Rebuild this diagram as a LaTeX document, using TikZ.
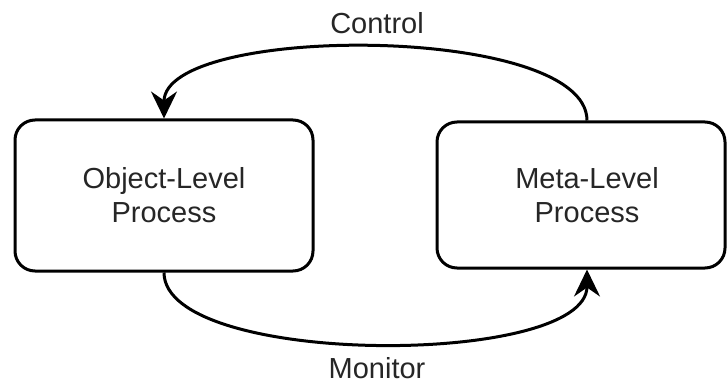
\documentclass[tikz,border=0pt]{standalone}
\usepackage{fontspec}
\setmainfont{Liberation Sans}
\usetikzlibrary{arrows.meta}
\tikzset{
  procbox/.style={draw=black, line width=3pt, rounded corners=20pt, fill=white},
  proclabel/.style={align=center, text=black!85, font=\fontsize{29}{34}\selectfont},
  flowlabel/.style={text=black!85, font=\fontsize{29}{34}\selectfont, anchor=base, inner sep=0pt},
  flow/.style={line width=3pt, -{Stealth[length=27pt, width=26pt, inset=9pt]}}
}
\begin{document}
\begin{tikzpicture}[x=1pt, y=1pt]
  \useasboundingbox (0,0) rectangle (727,383);

  % the two processes
  \node[procbox, minimum width=298pt, minimum height=151pt] (obj) at (164,187.5) {};
  \node[proclabel] (objtext) at (obj.center) {Object-Level\\Process};
  \node[procbox, minimum width=288pt, minimum height=146pt] (meta) at (581,188) {};
  \node[proclabel] (metatext) at ([xshift=6pt]meta.center) {Meta-Level\\Process};

  % control flows from the meta level down to the object level
  \draw[flow] ([xshift=6pt]meta.north) .. controls +(0,97) and +(0,95) .. (obj.north);
  \node[flowlabel] (ctrl) at (377,349) {Control};

  % monitoring flows from the object level up to the meta level
  \draw[flow] (obj.south) .. controls +(0,-95) and +(0,-98) .. ([xshift=6pt]meta.south);
  \node[flowlabel] (mon) at (377,5) {Monitor};
\end{tikzpicture}
\end{document}
